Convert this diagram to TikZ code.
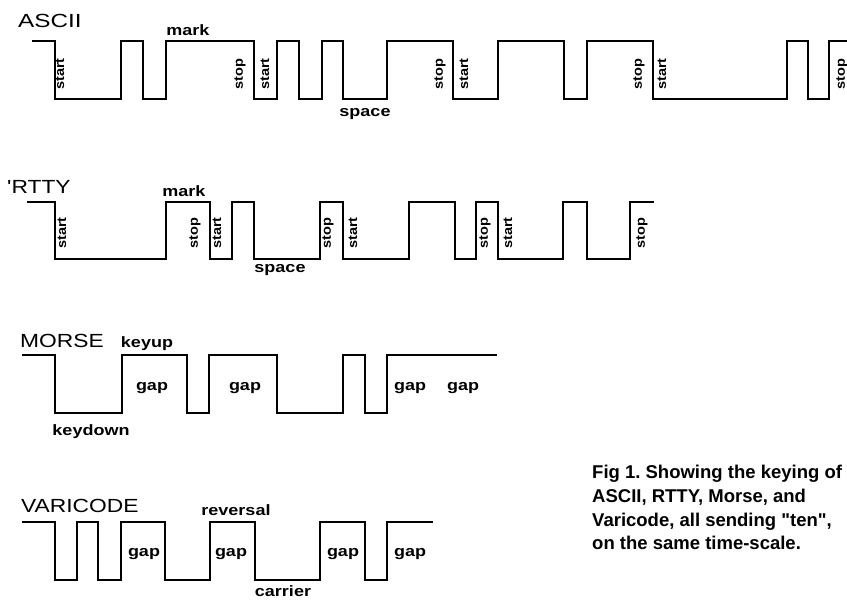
\documentclass[tikz,border=0pt]{standalone}
\usepackage{fontspec}
\setmainfont{Liberation Sans}
\usepackage{graphicx}
\newcommand{\wideT}[1]{\scalebox{1.2}[1]{#1}}
\newcommand{\wideL}[1]{\scalebox{1.2}[1]{#1}}
\newcommand{\wideV}[1]{\scalebox{1.12}[1]{#1}}
\frenchspacing
\tikzset{
  wave/.style={line width=2pt, line join=miter, black},
  title/.style={font=\fontsize{19}{22}\selectfont, inner sep=0pt, anchor=base west},
  lbl/.style={font=\bfseries\fontsize{15}{18}\selectfont, inner sep=0pt, anchor=base},
  vlbl/.style={font=\bfseries\fontsize{13}{15}\selectfont, inner sep=0pt, rotate=90},
  captxt/.style={font=\bfseries\fontsize{18.5}{22}\selectfont, inner sep=0pt, anchor=base west},
}
\begin{document}
\begin{tikzpicture}[x=1pt,y=-1pt]
\useasboundingbox (0,0) rectangle (847,602);
\fill[white] (0,0) rectangle (847,602);
\clip (0,0) rectangle (847,602);

% ---------------- ASCII ----------------
\node[title] (tA) at (18,28) {\scalebox{1.28}[1]{ASCII}};
\draw[wave] (32,41) -| (55,99) -| (121,41) -| (143,99) -| (166,41) -| (254,99)
  -| (277,41) -| (299,99) -| (322,41) -| (343,99) -| (387,41) -| (453,99)
  -| (498,41) -| (564,99) -| (587,41) -| (653,99) -| (787,41) -| (808,99)
  -| (829,41) -- (852,41);
\node[lbl] (aMark) at (188,36) {\wideL{mark}};
\node[lbl] (aSpace) at (365,117) {\wideL{space}};
\node[vlbl] (aS1) at (60,74) {\wideV{start}};
\node[vlbl] (aP1) at (240,74) {\wideV{stop}};
\node[vlbl] (aS2) at (265,74) {\wideV{start}};
\node[vlbl] (aP2) at (440,74) {\wideV{stop}};
\node[vlbl] (aS3) at (464,74) {\wideV{start}};
\node[vlbl] (aP3) at (639,74) {\wideV{stop}};
\node[vlbl] (aS4) at (662,74) {\wideV{start}};
\node[vlbl] (aP4) at (842,74) {\wideV{stop}};

% ---------------- RTTY ----------------
\node[title] (tR) at (7,193) {\wideT{\textquotesingle RTTY}};
\draw[wave] (27,202) -| (55,259) -| (166,202) -| (210,259) -| (232,202) -| (254,259)
  -| (320,202) -| (343,259) -| (409,202) -| (455,259) -| (476,202) -| (498,259)
  -| (563,202) -| (587,259) -| (630,202) -- (654,202);
\node[lbl] (rMark) at (184,196) {\wideL{mark}};
\node[lbl] (rSpace) at (280,272) {\wideL{space}};
\node[vlbl] (rS1) at (62,233) {\wideV{start}};
\node[vlbl] (rP1) at (195,233) {\wideV{stop}};
\node[vlbl] (rS2) at (217,233) {\wideV{start}};
\node[vlbl] (rP2) at (328,233) {\wideV{stop}};
\node[vlbl] (rS3) at (353,233) {\wideV{start}};
\node[vlbl] (rP3) at (485,233) {\wideV{stop}};
\node[vlbl] (rS4) at (508,233) {\wideV{start}};
\node[vlbl] (rP4) at (642,233) {\wideV{stop}};

% ---------------- MORSE ----------------
\node[title] (tM) at (20,347) {\wideT{MORSE}};
\draw[wave] (22,355) -| (55,413) -| (122,355) -| (187,413) -| (209,355) -| (277,413)
  -| (343,355) -| (365,413) -| (387,355) -- (497,355);
\node[lbl] (mUp) at (147,347) {\wideL{keyup}};
\node[lbl] (mDown) at (91,435) {\wideL{keydown}};
\node[lbl] (mG1) at (152,390) {\wideL{gap}};
\node[lbl] (mG2) at (245,390) {\wideL{gap}};
\node[lbl] (mG3) at (410,390) {\wideL{gap}};
\node[lbl] (mG4) at (463,390) {\wideL{gap}};

% ---------------- VARICODE ----------------
\node[title] (tV) at (21,512) {\wideT{VARICODE}};
\draw[wave] (22,522) -| (55,580) -| (77,522) -| (98,580) -| (121,522) -| (165,580)
  -| (210,522) -| (255,580) -| (320,522) -| (365,580) -| (387,522) -- (433,522);
\node[lbl] (vRev) at (236,515) {\wideL{reversal}};
\node[lbl] (vCar) at (283,596) {\wideL{carrier}};
\node[lbl] (vG1) at (144,556) {\wideL{gap}};
\node[lbl] (vG2) at (231,556) {\wideL{gap}};
\node[lbl] (vG3) at (343,556) {\wideL{gap}};
\node[lbl] (vG4) at (410,556) {\wideL{gap}};

% ---------------- Caption ----------------
\node[captxt] (c1) at (592,478) {Fig 1. Showing the keying of};
\node[captxt] (c2) at (592,502) {ASCII, RTTY, Morse, and};
\node[captxt] (c3) at (592,526) {Varicode, all sending \textquotedbl ten\textquotedbl,};
\node[captxt] (c4) at (592,549) {on the same time-scale.};
\end{tikzpicture}
\end{document}
